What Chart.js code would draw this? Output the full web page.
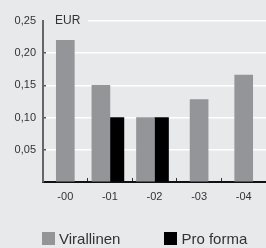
<!DOCTYPE html>
<html>
<head>
<meta charset="utf-8">
<script src="https://cdn.jsdelivr.net/npm/chart.js@4/dist/chart.umd.min.js"></script>
<style>
  html, body { margin: 0; padding: 0; background: #e8e9eb; overflow: hidden; }
  #wrap { position: relative; width: 266px; height: 248px; }
  #legend { position: absolute; left: 42px; top: 230px; white-space: nowrap;
    font: 15px "Liberation Sans", Arial, sans-serif; color: #333; }
  #legend span.item { display: inline-block; margin-right: 44px; }
  #legend span.box { display: inline-block; width: 13px; height: 13px; margin-right: 4px; vertical-align: -1px; }
</style>
</head>
<body>
<div id="wrap">
  <canvas id="chart" width="266" height="248"></canvas>
  <div id="legend"></div>
</div>
<script>
const years = ['-00', '-01', '-02', '-03', '-04'];
const virallinen = [0.22, 0.15, 0.10, 0.128, 0.166];
const proForma = [null, 0.10, 0.10, null, null];
const yTicks = [0.05, 0.10, 0.15, 0.20, 0.25];
const unit = 'EUR';

const tickFont = { family: '"Liberation Sans", Arial, sans-serif', size: 11 };

// EUR label sits on top of the 0.25 gridline, masking it
const unitLabel = {
    id: 'unitLabel',
    beforeDatasetsDraw(chart) {
        const { ctx, chartArea } = chart;
        const y = chart.scales.y.getPixelForValue(0.25);
        ctx.save();
        ctx.fillStyle = '#e8e9eb';
        ctx.fillRect(chartArea.left + 1, y - 3, 44, 6);
        ctx.fillStyle = '#333';
        ctx.font = '12px "Liberation Sans", Arial, sans-serif';
        ctx.textBaseline = 'middle';
        ctx.fillText(unit, chartArea.left + 12, y);
        ctx.restore();
    }
};

const chart = new Chart(document.getElementById('chart'), {
    type: 'bar',
    data: {
        labels: years,
        datasets: [
            { label: 'Virallinen', data: virallinen, backgroundColor: '#939598', barThickness: 18 },
            { label: 'Pro forma', data: proForma, backgroundColor: '#000000', barThickness: 14 }
        ]
    },
    options: {
        responsive: false,
        animation: false,
        skipNull: true,
        layout: { padding: { top: 21, left: 0, right: 0, bottom: 0 } },
        plugins: { legend: { display: false }, tooltip: { enabled: false } },
        scales: {
            x: {
                afterFit(s) { s.height = 66; },
                grid: { drawOnChartArea: false, tickLength: -4, tickColor: '#333', offset: true },
                border: { color: '#111', width: 2 },
                ticks: { font: tickFont, color: '#333', padding: 12 }
            },
            y: {
                min: 0,
                max: 0.25,
                afterFit(s) { s.width = 43; },
                afterBuildTicks(s) { s.ticks = [0].concat(yTicks).map(v => ({ value: v })); },
                grid: {
                    color: c => c.tick && c.tick.value === 0 ? 'rgba(0,0,0,0)' : '#ffffff',
                    lineWidth: 1.5,
                    tickLength: -3,
                    tickColor: '#555'
                },
                border: { color: '#666', width: 2 },
                ticks: {
                    font: tickFont,
                    color: '#333',
                    padding: 10,
                    callback: v => v === 0 ? '' : v.toFixed(2).replace('.', ',')
                }
            }
        }
    },
    plugins: [unitLabel]
});

const legend = document.getElementById('legend');
chart.data.datasets.forEach(ds => {
    const item = document.createElement('span');
    item.className = 'item';
    const box = document.createElement('span');
    box.className = 'box';
    box.style.background = ds.backgroundColor;
    item.appendChild(box);
    item.appendChild(document.createTextNode(ds.label));
    legend.appendChild(item);
});
</script>
</body>
</html>
